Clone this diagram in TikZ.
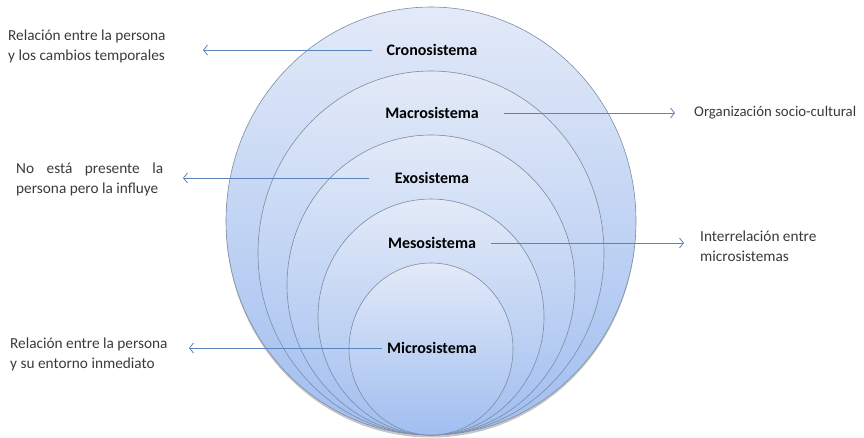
\documentclass[tikz,border=0pt]{standalone}
\usepackage{fontspec}
\setmainfont{Carlito}
\usetikzlibrary{arrows.meta,shadows}

\definecolor{azulclaro}{HTML}{E3EAF8}
\definecolor{azulfondo}{HTML}{A0BEF0}
\definecolor{borde}{HTML}{7E8CA2}
\definecolor{flechaazul}{HTML}{5B84BC}
\definecolor{gristexto}{HTML}{3A3A3A}

\begin{document}
\begin{tikzpicture}[
  x=1pt,y=-1pt,
  esfera/.style={draw=borde, line width=0.6pt, top color=azulclaro,
    bottom color=azulfondo},
  etiqueta/.style={font=\fontsize{16}{18}\selectfont\bfseries, text=black},
  texto/.style={font=\fontsize{15.3}{20}\selectfont, text=gristexto,
    align=left, anchor=north west, inner sep=0pt},
  flecha/.style={draw=flechaazul, line width=0.8pt,
    -{Straight Barb[length=4pt,width=10pt]}}
]
\useasboundingbox (0,0) rectangle (864,437);

% esferas, de fuera hacia dentro
\draw[esfera, drop shadow={shadow xshift=0pt, shadow yshift=-2.5pt, opacity=0.45}]
  (431,221) ellipse [x radius=205, y radius=214];
\foreach \rx/\ry in {173/182,144/150,113/118,82/86}
  \draw[esfera] (431,{435-\ry}) ellipse [x radius=\rx, y radius=\ry];

\node[etiqueta] (crono) at (432,50) {Cronosistema};
\node[etiqueta] (macro) at (432,113) {Macrosistema};
\node[etiqueta] (exo) at (432,178) {Exosistema};
\node[etiqueta] (meso) at (432,243) {Mesosistema};
\node[etiqueta] (micro) at (432,348) {Microsistema};

\node[texto] (dcrono) at (8,30) {Relación entre la persona\\y los cambios temporales};
\node[texto] (dexo) at (16,163)
  {\makebox[147pt][s]{No está presente la}\\persona pero la influye};
\node[texto] (dmicro) at (10,338) {Relación entre la persona\\y su entorno inmediato};
\node[texto, anchor=west, font=\fontsize{14.8}{20}\selectfont] (dmacro) at (694,113)
  {Organización socio-cultural};
\node[texto] (dmeso) at (700,231) {Interrelación entre\\microsistemas};

\coordinate (pcrono) at (203,50);
\coordinate (pmacro) at (675,113);
\coordinate (pexo) at (183,178);
\coordinate (pmeso) at (684,243);
\coordinate (pmicro) at (189,348);

\draw[flecha, shorten <=11pt] (crono.west) -- (pcrono);
\draw[flecha, shorten <=22pt] (macro.east) -- (pmacro);
\draw[flecha, shorten <=22pt] (exo.west) -- (pexo);
\draw[flecha, shorten <=12pt] (meso.east) -- (pmeso);
\draw[flecha, shorten <=2pt] (micro.west) -- (pmicro);
\end{tikzpicture}
\end{document}
